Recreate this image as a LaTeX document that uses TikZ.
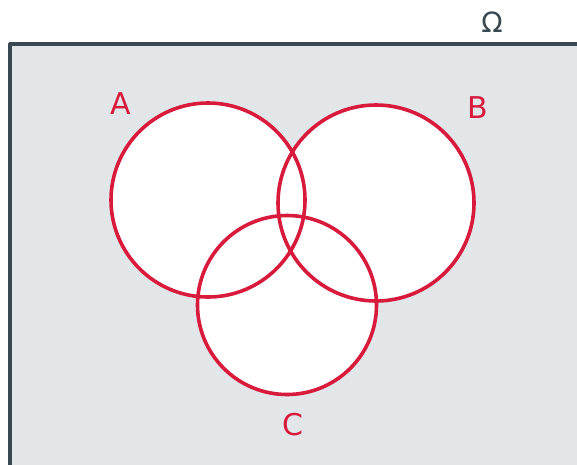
\documentclass[tikz,border=0pt]{standalone}
\usepackage{fontspec}
\setmainfont{DejaVu Sans}
\begin{document}
\begin{tikzpicture}[x=1pt,y=-1pt,
  setcircle/.style={circle,inner sep=0pt,line width=3.6pt,draw=vred},
  setfill/.style={circle,inner sep=0pt,fill=white},
  setlabel/.style={text=vred,font=\fontsize{30}{30}\selectfont},
  line join=round]
\definecolor{vred}{HTML}{D81A3C}
\definecolor{boxgray}{HTML}{E3E6E8}
\definecolor{boxline}{HTML}{3A4852}
\useasboundingbox (0,0) rectangle (577,464);
\clip (0,0) rectangle (577,464);
\fill[white] (0,0) rectangle (577,464);
\draw[fill=boxgray,draw=boxline,line width=3.2pt] (10,44) rectangle (600,490);
% fills
\node[setfill,minimum size=194pt] at (208,200) {};
\node[setfill,minimum size=196pt] at (376,203) {};
\node[setfill,minimum size=179pt] at (287,305) {};
% outlines
\node[setcircle,minimum size=194pt] (A) at (208,200) {};
\node[setcircle,minimum size=196pt] (B) at (376,203) {};
\node[setcircle,minimum size=179pt] (C) at (287,305) {};
% labels
\node[setlabel] (la) at (121,104) {A};
\node[setlabel] (lb) at (478,108) {B};
\node[setlabel] (lc) at (293,425) {C};
\node[text=boxline,font=\fontsize{28}{28}\selectfont] (omega) at (492,22) {Ω};
\end{tikzpicture}
\end{document}
